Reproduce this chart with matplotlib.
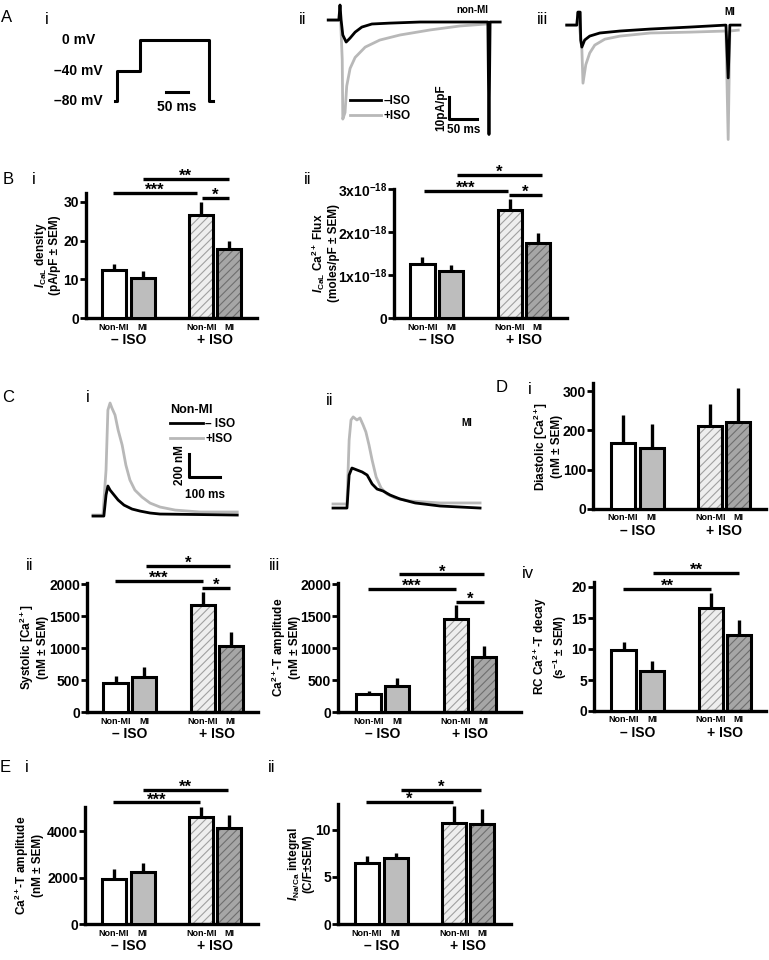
import matplotlib
matplotlib.use('Agg')
import matplotlib.pyplot as plt
from matplotlib.lines import Line2D

plt.rcParams['font.family'] = ['Liberation Sans', 'DejaVu Sans']
plt.rcParams['font.weight'] = 'bold'
plt.rcParams['mathtext.fontset'] = 'custom'
plt.rcParams['mathtext.rm'] = 'Liberation Sans:bold'
plt.rcParams['mathtext.it'] = 'Liberation Sans:italic:bold'
plt.rcParams['mathtext.bf'] = 'Liberation Sans:bold'
plt.rcParams['hatch.linewidth'] = 0.8

W, H = 769, 960

# ---- data ----
groups = ['Non-MI', 'MI', 'Non-MI', 'MI']
iso_labels = ['– ISO', '+ ISO']
bar_pos = [1, 2, 4.05, 5.03]

# A i: voltage protocol
vc_t = [0, 5, 5, 56, 56, 210, 210, 219]
vc_mv = [-80, -80, -40, -40, 0, 0, -80, -80]

# A ii: non-MI ICaL traces (ms, pA/pF)
nonmi_t_ctrl = [-21, -2, 0, 2, 5, 11, 18, 27, 39, 57, 89, 143, 264, 266, 268, 286]
nonmi_i_ctrl = [0, 0, 6.8, 0, -6.8, -10, -8.2, -5.5, -3.2, -1.8, -1.4, -0.9, -0.9, -52, -0.9, -0.9]
nonmi_t_iso = [-21, -2, 0, 4, 5, 9, 12, 18, 27, 45, 71, 107, 161, 214, 262]
nonmi_i_iso = [0, 0, 6.8, -18, -45, -42, -30, -22, -17, -12.3, -9.1, -6.8, -4.5, -2.7, -1.8]

# A iii: MI ICaL traces
mi_t_ctrl = [-20, -2, 0, 4, 5, 7, 12, 21, 39, 75, 129, 200, 264, 268, 271, 289]
mi_i_ctrl = [0, 0, 5.9, 5.9, -6.8, -10, -6.8, -5, -3.6, -2.7, -1.8, -0.9, 0, -24, 0, 0]
mi_t_iso = [-20, -2, 0, 7, 9, 14, 21, 30, 48, 75, 129, 200, 264, 268, 271, 286]
mi_i_iso = [0, 0, 5.9, -11, -26.4, -18, -12.7, -9.1, -6.4, -5, -3.6, -3.2, -2.7, -52, -2.7, -2.3]

# C i: non-MI Ca transients (ms, nM)
ct_nonmi_t_iso = [0, 32, 42, 48, 55, 61, 71, 81, 94, 106, 119, 135, 158, 184, 216, 265, 345, 465]
ct_nonmi_ca_iso = [0, 0, 398, 929, 991, 947, 885, 752, 619, 442, 310, 221, 159, 106, 71, 44, 27, 27]
ct_nonmi_t_ctrl = [0, 35, 42, 48, 55, 68, 81, 100, 126, 152, 184, 216, 465]
ct_nonmi_ca_ctrl = [-9, -9, 177, 257, 221, 177, 133, 88, 53, 35, 18, 9, 0]

# C ii: MI Ca transients
ct_mi_t_iso = [0, 45, 52, 58, 65, 77, 87, 97, 106, 116, 126, 139, 155, 174, 200, 248, 345, 474]
ct_mi_ca_iso = [18, 18, 584, 761, 788, 761, 779, 717, 655, 540, 407, 257, 159, 106, 71, 44, 27, 27]
ct_mi_t_ctrl = [0, 45, 52, 61, 77, 94, 110, 126, 142, 161, 184, 216, 265, 345, 474]
ct_mi_ca_ctrl = [-18, -18, 274, 336, 319, 301, 274, 195, 150, 133, 97, 62, 27, 0, -18]

# bar charts: means and SEM (-ISO Non-MI, -ISO MI, +ISO Non-MI, +ISO MI)
ical_density = [12.3, 10.3, 26.5, 17.8]
ical_density_sem = [1.7, 1.9, 3.5, 2.2]
ical_flux = [1.26, 1.10, 2.51, 1.75]          # x10^-18 moles/pF
ical_flux_sem = [0.16, 0.13, 0.26, 0.22]
diastolic = [168, 155, 211, 221]
diastolic_sem = [70, 61, 56, 86]
systolic = [453, 548, 1675, 1031]
systolic_sem = [107, 155, 205, 219]
cat_amp = [281, 408, 1460, 865]
cat_amp_sem = [49, 122, 215, 170]
rc_decay = [9.8, 6.4, 16.6, 12.2]
rc_decay_sem = [1.3, 1.6, 2.4, 2.4]
cat_amp_e = [1920, 2250, 4610, 4150]
cat_amp_e_sem = [440, 370, 420, 550]
ncx_integral = [6.5, 6.95, 10.7, 10.6]
ncx_integral_sem = [0.7, 0.55, 1.8, 1.6]

face_cols = ['white', '#bdbdbd', '#eeeeee', '#a6a6a6']
hatch_cols = [None, None, '#a0a0a0', '#6e6e6e']

fig = plt.figure(figsize=(W / 100, H / 100), dpi=100)


def px_axes(left, top, right, bottom):
    return fig.add_axes([left / W, 1 - bottom / H, (right - left) / W, (bottom - top) / H])


def ftext(x, y, s, **kw):
    fig.text(x / W, 1 - y / H, s, ha='center', va='center', **kw)


def bar_panel(left, right, base, scale, ytop, c1, vals, sem, yticks, yticklabels,
              ylabel, lab_off, sigs):
    top = base - ytop * scale
    ax = px_axes(left, top, right, base)
    step = 28.6
    x0 = c1 - step
    ax.set_xlim((left - x0) / step, (right - x0) / step)
    ax.set_ylim(0, ytop)
    tops = [v + s for v, s in zip(vals, sem)]
    ax.vlines(bar_pos, vals, tops, colors='black', lw=2.4, zorder=1)
    for i in range(4):
        if hatch_cols[i]:
            ax.bar(bar_pos[i], vals[i], 0.84, color=face_cols[i], edgecolor=hatch_cols[i],
                   hatch='////', linewidth=0, zorder=2)
            ax.bar(bar_pos[i], vals[i], 0.84, facecolor='none', edgecolor='black',
                   linewidth=2.2, zorder=3)
        else:
            ax.bar(bar_pos[i], vals[i], 0.84, color=face_cols[i], edgecolor='black',
                   linewidth=2.2, zorder=3)
    for s in ['top', 'right']:
        ax.spines[s].set_visible(False)
    for s in ['left', 'bottom']:
        ax.spines[s].set_linewidth(2.4)
    ax.set_xticks([])
    ax.set_yticks(yticks)
    ax.set_yticklabels(yticklabels)
    ax.tick_params(axis='y', labelsize=10, width=2, length=4, pad=1)
    for p, g in zip(bar_pos, groups):
        ax.annotate(g, xy=(p, 0), xycoords=('data', 'axes fraction'), xytext=(0, -9),
                    textcoords='offset pixels', ha='center', va='center', fontsize=6.5)
    for k, lbl in enumerate(iso_labels):
        mid = (bar_pos[2 * k] + bar_pos[2 * k + 1]) / 2
        ax.annotate(lbl, xy=(mid, 0), xycoords=('data', 'axes fraction'), xytext=(0, -22),
                    textcoords='offset pixels', ha='center', va='center', fontsize=10)
    ax.text(-lab_off / (right - left), 0.5, ylabel, transform=ax.transAxes, rotation=90,
            ha='center', va='center', multialignment='center', fontsize=8.5,
            linespacing=1.1)
    for xa, xb, y, stars in sigs:
        ax.plot([xa, xb], [y, y], color='black', lw=2.4, clip_on=False, solid_capstyle='butt')
        ax.annotate(stars, xy=((xa + xb) / 2, y), xytext=(0, -2), textcoords='offset pixels',
                    ha='center', va='baseline', fontsize=12, annotation_clip=False)
    return ax


def trace_axes(left, top, right, bottom, xlim, ylim):
    ax = px_axes(left, top, right, bottom)
    ax.set_xlim(*xlim)
    ax.set_ylim(*ylim)
    ax.axis('off')
    return ax


# ---- A i ----
ax = trace_axes(20, 25, 245, 120, (-212.5, 290.8), (-104.9, 19.7))
ax.plot(vc_t, vc_mv, color='black', lw=2.2)
ax.text(-44.7, 0, '0 mV', ha='right', va='center', fontsize=10)
ax.text(-26.8, -40, '–40 mV', ha='right', va='center', fontsize=10)
ax.text(-26.8, -80, '–80 mV', ha='right', va='center', fontsize=10)
ax.plot([114, 164], [-68, -68], color='black', lw=2.2)
ax.text(139, -88, '50 ms', ha='center', va='center', fontsize=10)

# ---- A ii ----
ax = trace_axes(320, 0, 505, 140, (-35.7, 294.6), (-54.5, 9.1))
ax.plot(nonmi_t_iso, nonmi_i_iso, color='#b8b8b8', lw=2)
ax.plot(nonmi_t_ctrl, nonmi_i_ctrl, color='black', lw=2)
ax.plot([195, 195, 245], [-35, -45, -45], color='black', lw=2.2)
ax.text(181, -40, '10pA/pF', rotation=90, ha='center', va='center', fontsize=8.5)
ax.text(220, -50, '50 ms', ha='center', va='center', fontsize=8.5)
ax.text(237, 4.5, 'non-MI', ha='center', va='center', fontsize=7)
ax.legend(handles=[Line2D([], [], color='black', lw=2), Line2D([], [], color='#b8b8b8', lw=2)],
          labels=['–ISO', '+ISO'], loc='upper left', bbox_to_anchor=(0.16, 0.32),
          frameon=False, fontsize=8.5, handlelength=2.7, handletextpad=0.2,
          labelspacing=0.25, borderpad=0, borderaxespad=0)

# ---- A iii ----
ax = trace_axes(560, 0, 745, 145, (-32, 298), (-54.5, 11.4))
ax.plot(mi_t_iso, mi_i_iso, color='#b8b8b8', lw=2)
ax.plot(mi_t_ctrl, mi_i_ctrl, color='black', lw=2)
ax.text(271, 5.9, 'MI', ha='center', va='center', fontsize=7)

# ---- B ----
bar_panel(86, 257, 318, 3.87, 32.3, 114, ical_density, ical_density_sem,
          [0, 10, 20, 30], ['0', '10', '20', '30'],
          '$\\mathit{I}_{\\mathrm{CaL}}$ density\n(pA/pF ± SEM)', 39,
          [(0.95, 3.9, 32.3, '***'), (2.0, 5.02, 35.9, '**'), (4.07, 5.02, 31.0, '*')])
bar_panel(394, 567, 318, 43, 3.0, 422.5, ical_flux, ical_flux_sem,
          [0, 1, 2, 3], ['0', '1x10$^{-18}$', '2x10$^{-18}$', '3x10$^{-18}$'],
          '$\\mathit{I}_{\\mathrm{CaL}}$ Ca$^{2+}$ Flux\n(moles/pF ± SEM)', 69,
          [(1.04, 4.0, 2.95, '***'), (2.22, 5.17, 3.33, '*'), (4.03, 5.17, 2.86, '*')])

# ---- C i / C ii traces ----
ax = trace_axes(85, 395, 245, 525, (-25.8, 490), (-88, 1062))
ax.plot(ct_nonmi_t_iso, ct_nonmi_ca_iso, color='#b8b8b8', lw=2)
ax.plot(ct_nonmi_t_ctrl, ct_nonmi_ca_ctrl, color='black', lw=2)
ax.plot([310, 310, 410], [540, 336, 336], color='black', lw=2.2)
ax.text(281, 442, '200 nM', rotation=90, ha='center', va='center', fontsize=8.5)
ax.text(361, 177, '100 ms', ha='center', va='center', fontsize=8.5)
ax.legend(handles=[Line2D([], [], color='black', lw=2), Line2D([], [], color='#b8b8b8', lw=2)],
          labels=['– ISO', '+ISO'], title='Non-MI', alignment='left',
          title_fontproperties={'weight': 'bold', 'size': 9},
          loc='upper left', bbox_to_anchor=(0.53, 0.93), frameon=False, fontsize=8.5,
          handlelength=2.8, handletextpad=0.2, labelspacing=0.2, borderpad=0,
          borderaxespad=0)

ax = trace_axes(325, 395, 490, 525, (-25.8, 506), (-168, 982))
ax.plot(ct_mi_t_iso, ct_mi_ca_iso, color='#b8b8b8', lw=2)
ax.plot(ct_mi_t_ctrl, ct_mi_ca_ctrl, color='black', lw=2)
ax.text(432, 735, 'MI', ha='center', va='center', fontsize=7)

# ---- D i ----
bar_panel(593, 766, 509, 0.393, 320, 623, diastolic, diastolic_sem,
          [0, 100, 200, 300], ['0', '100', '200', '300'],
          'Diastolic [Ca$^{2+}$]\n(nM ± SEM)', 46, [])

# ---- C ii / C iii / D iv ----
bar_panel(87, 258, 712, 0.064, 2020, 115.5, systolic, systolic_sem,
          [0, 500, 1000, 1500, 2000], ['0', '500', '1000', '1500', '2000'],
          'Systolic [Ca$^{2+}$]\n(nM ± SEM)', 54,
          [(0.98, 4.07, 2047, '***'), (2.07, 5.02, 2281, '*'), (4.04, 5.02, 1937, '*')])
bar_panel(338, 521, 712, 0.064, 2020, 368.5, cat_amp, cat_amp_sem,
          [0, 500, 1000, 1500, 2000], ['0', '500', '1000', '1500', '2000'],
          'Ca$^{2+}$-T amplitude\n(nM ± SEM)', 53,
          [(0.98, 4.05, 1920, '***'), (2.07, 5.05, 2150, '*'), (4.05, 5.05, 1720, '*')])
bar_panel(594, 766, 711, 6.2, 20.8, 623.5, rc_decay, rc_decay_sem,
          [0, 5, 10, 15, 20], ['0', '5', '10', '15', '20'],
          'RC Ca$^{2+}$-T decay\n(s$^{-1}$ ± SEM)', 44,
          [(0.98, 4.06, 19.7, '**'), (2.03, 5.04, 22.3, '**')])

# ---- E ----
bar_panel(85, 258, 924, 0.0232, 5050, 114, cat_amp_e, cat_amp_e_sem,
          [0, 2000, 4000], ['0', '2000', '4000'],
          'Ca$^{2+}$-T amplitude\n(nM ± SEM)', 57,
          [(0.97, 4.0, 5240, '***'), (2.0, 5.0, 5780, '**')])
bar_panel(338, 511, 924, 9.45, 12.7, 367, ncx_integral, ncx_integral_sem,
          [0, 5, 10], ['0', '5', '10'],
          '$\\mathit{I}_{\\mathrm{Na/Ca}}$ integral\n(C/F±SEM)', 38,
          [(0.97, 4.0, 12.9, '*'), (2.2, 5.0, 14.2, '*')])

# ---- panel letters ----
letters = [('A', 7, 17), ('i', 47, 20), ('ii', 303, 20), ('iii', 542, 20),
           ('B', 8, 180), ('i', 34, 180), ('ii', 308, 180),
           ('C', 8, 398), ('i', 88, 398), ('ii', 330, 400), ('D', 502, 387), ('i', 530, 390),
           ('ii', 30, 565), ('iii', 275, 565), ('iv', 528, 573),
           ('E', 5, 768), ('i', 27, 768), ('ii', 272, 768)]
for s, x, y in letters:
    ftext(x, y, s, fontsize=12, fontweight='normal')

fig.savefig('out.png', dpi=100)
